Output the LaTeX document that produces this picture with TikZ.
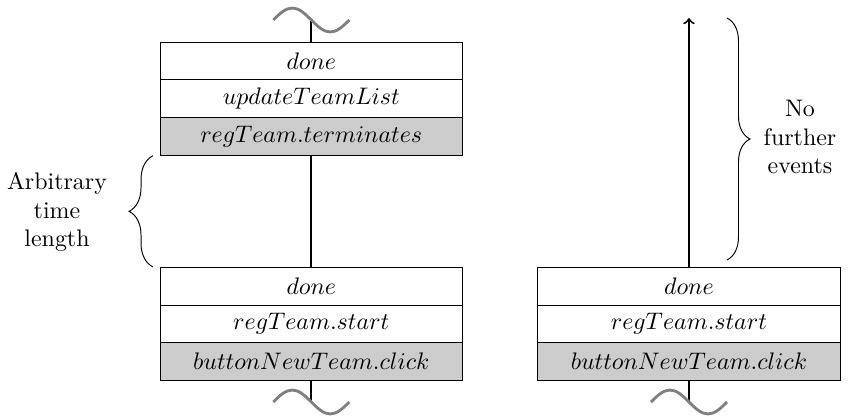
\documentclass[tikz,border=0pt]{standalone}
\usetikzlibrary{positioning,decorations.pathreplacing,calc}

\begin{document}
\begin{tikzpicture}[
  x=0.418pt, y=-0.418pt,
  node distance=0pt,
  row/.style={draw, minimum width=126.5pt, minimum height=15.75pt,
              inner sep=2pt, outer sep=0pt},
  trig/.style={row, fill=gray!40},
  conn/.style={thick},
  wave/.style={draw=gray, line width=1.2pt},
  bracket/.style={decorate, decoration={brace, amplitude=#1}}
]
\useasboundingbox (0,0) rectangle (849,416);

% left column, later state
\node[row] (tDone) at (311.3,61) {$done$};
\node[row, below=of tDone] (tUpdate) {$updateTeamList$};
\node[trig, below=of tUpdate] (tTerm) {$regTeam.terminates$};

% left column, first state
\node[row] (bDone) at (311.3,286.3) {$done$};
\node[row, below=of bDone] (bStart) {$regTeam.start$};
\node[trig, below=of bStart] (bClick) {$buttonNewTeam.click$};

% right column
\node[row] (rDone) at (689,286.3) {$done$};
\node[row, below=of rDone] (rStart) {$regTeam.start$};
\node[trig, below=of rStart] (rClick) {$buttonNewTeam.click$};

\coordinate (cutTop) at (311.3,20);
\coordinate (cutLeft) at (311.3,402);
\coordinate (cutRight) at (689,402);
\coordinate (arrEnd) at (689,18);

\draw[conn] (cutTop) -- (tDone.north);
\draw[conn] (tTerm.south) -- (bDone.north);
\draw[conn] (bClick.south) -- (cutLeft);
\draw[conn] (rClick.south) -- (cutRight);
\draw[conn, ->] (rDone.north) -- (arrEnd);

\foreach \c in {cutTop, cutLeft, cutRight}
  \draw[wave] ($(\c)+(-38,0)$) sin ++(19,-12) cos ++(19,12)
              sin ++(19,12) cos ++(19,-12);

\coordinate (brTop) at ($(tTerm.south west)+(-7,0.5)$);
\coordinate (brBot) at ($(bDone.north west)+(-7,-0.5)$);
\draw[bracket=10pt] (brBot) -- (brTop);
\node[align=center] (arbLbl) at (57,212) {Arbitrary\\time\\length};

\coordinate (nbTop) at (727,18);
\coordinate (nbBot) at (727,260);
\draw[bracket=9.6pt] (nbTop) -- (nbBot);
\node[align=center] (noLbl) at (800,137) {No\\further\\events};
\end{tikzpicture}
\end{document}
